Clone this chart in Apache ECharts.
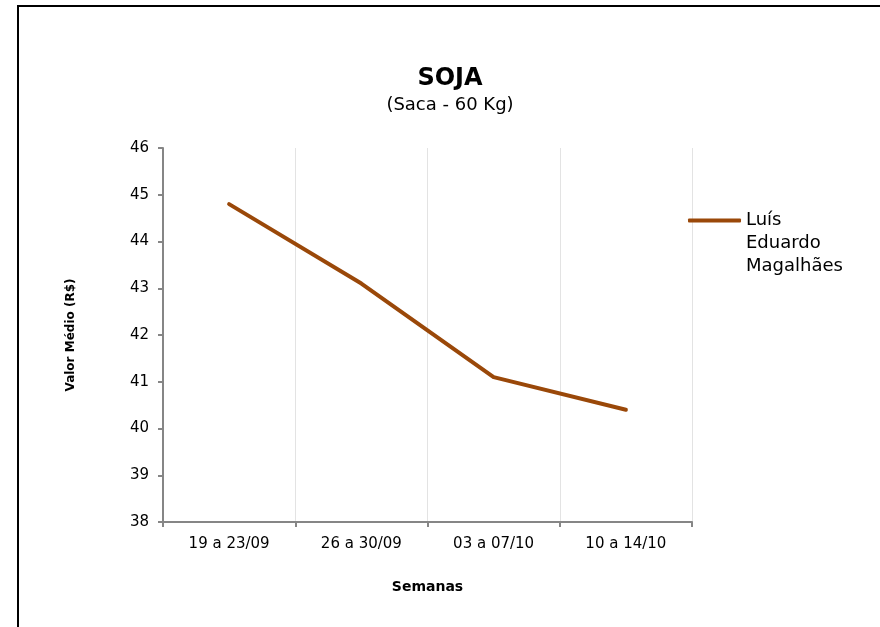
<!DOCTYPE html>
<html>
<head>
<meta charset="utf-8">
<script src="https://cdn.jsdelivr.net/npm/echarts@6/dist/echarts.min.js"></script>
<style>
  html, body { margin: 0; padding: 0; background: #fff; }
  #chart { width: 880px; height: 627px; }
</style>
</head>
<body>
<div id="chart"></div>
<script>
// semanas
var categorias = ['19 a 23/09', '26 a 30/09', '03 a 07/10', '10 a 14/10'];
// valor medio (R$) - Luís Eduardo Magalhães
var valoresLEM = [44.8, 43.1, 41.1, 40.4];
var nomeSerie = 'Luís Eduardo Magalhães';

var myChart = echarts.init(document.getElementById('chart'));
var fonte = '"DejaVu Sans", Verdana, sans-serif';

var option = {
    animation: false,
    backgroundColor: '#fff',
    textStyle: { fontFamily: fonte },
    title: {
        text: 'SOJA',
        subtext: '(Saca - 60 Kg)',
        left: 445,
        textAlign: 'center',
        top: 62,
        itemGap: 5,
        textStyle: { fontSize: 24, fontWeight: 'bold', color: '#000', fontFamily: fonte },
        subtextStyle: { fontSize: 18, color: '#000', fontFamily: fonte }
    },
    legend: {
        left: 683,
        top: 158,
        icon: 'roundRect',
        itemWidth: 53,
        itemHeight: 4,
        itemGap: 3,
        data: [nomeSerie],
        // duas linhas vazias antes para o icone ficar alinhado com a primeira linha
        formatter: function (name) {
            return '\n\n' + name.split(' ').join('\n');
        },
        textStyle: {
            fontSize: 18,
            lineHeight: 23,
            color: '#000',
            fontFamily: fonte
        }
    },
    grid: {
        left: 163,
        right: 188,
        top: 148,
        bottom: 105
    },
    graphic: [{
        type: 'rect',
        shape: { x: 18, y: 6, width: 900, height: 700 },
        style: { fill: 'none', stroke: '#000', lineWidth: 2 },
        silent: true
    }],
    xAxis: {
        type: 'category',
        data: categorias,
        boundaryGap: true,
        name: 'Semanas',
        nameLocation: 'middle',
        nameGap: 58,
        nameTextStyle: { fontSize: 14, fontWeight: 'bold', color: '#000' },
        axisLine: { lineStyle: { color: '#868686', width: 2 } },
        axisTick: { show: true, length: 5, lineStyle: { color: '#868686', width: 2 } },
        axisLabel: { fontSize: 15, color: '#000', margin: 15 },
        splitLine: { show: true, lineStyle: { color: '#e3e3e3', width: 1 } }
    },
    yAxis: {
        type: 'value',
        min: 38,
        max: 46,
        interval: 1,
        name: 'Valor Médio (R$)',
        nameLocation: 'middle',
        nameGap: 86,
        nameTextStyle: { fontSize: 12, fontWeight: 'bold', color: '#000' },
        axisLine: { show: true, lineStyle: { color: '#868686', width: 2 } },
        axisTick: { show: true, length: 5, lineStyle: { color: '#868686', width: 2 } },
        axisLabel: { fontSize: 15, color: '#000', margin: 14 },
        splitLine: { show: false }
    },
    series: [{
        name: nomeSerie,
        type: 'line',
        data: valoresLEM,
        symbol: 'none',
        lineStyle: { color: '#9A4809', width: 4, cap: 'round', join: 'round' },
        itemStyle: { color: '#9A4809' }
    }]
};
myChart.setOption(option);
</script>
</body>
</html>
